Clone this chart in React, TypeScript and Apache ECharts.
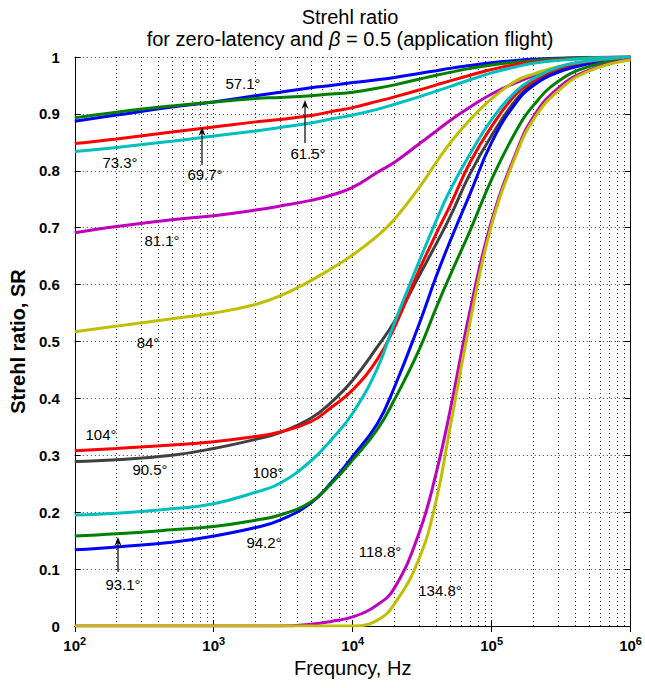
import React, { useEffect, useRef } from "react";
import * as echarts from "echarts";

// Frequency grid (Hz) shared by all curves
const frequencies = [100, 200, 500, 1000, 2000, 3000, 5000, 7000, 10000, 15000, 20000, 30000, 40000, 50000, 70000, 100000, 150000, 200000, 300000, 500000, 1000000];

// Strehl ratio values for each curve
const sr57_1 = [0.887, 0.898, 0.912, 0.921, 0.932, 0.938, 0.946, 0.950, 0.955, 0.960, 0.964, 0.971, 0.976, 0.980, 0.985, 0.990, 0.994, 0.996, 0.998, 0.999, 1.0];
const sr61_5 = [0.893, 0.903, 0.914, 0.921, 0.927, 0.929, 0.932, 0.935, 0.938, 0.945, 0.951, 0.961, 0.968, 0.973, 0.980, 0.986, 0.991, 0.994, 0.997, 0.999, 1.0];
const sr69_7 = [0.848, 0.856, 0.868, 0.877, 0.886, 0.890, 0.897, 0.904, 0.911, 0.922, 0.930, 0.942, 0.951, 0.958, 0.968, 0.978, 0.987, 0.991, 0.995, 0.998, 1.0];
const sr73_3 = [0.834, 0.841, 0.852, 0.861, 0.870, 0.876, 0.884, 0.891, 0.898, 0.908, 0.917, 0.930, 0.940, 0.948, 0.960, 0.972, 0.983, 0.989, 0.994, 0.998, 1.0];
const sr81_1 = [0.691, 0.702, 0.714, 0.721, 0.731, 0.738, 0.748, 0.757, 0.771, 0.797, 0.815, 0.847, 0.870, 0.888, 0.912, 0.935, 0.955, 0.967, 0.981, 0.993, 1.0];
const sr84 = [0.517, 0.527, 0.540, 0.550, 0.565, 0.580, 0.607, 0.628, 0.652, 0.685, 0.715, 0.770, 0.815, 0.848, 0.890, 0.927, 0.958, 0.970, 0.983, 0.993, 1.0];
const sr90_5 = [0.289, 0.292, 0.300, 0.312, 0.328, 0.340, 0.365, 0.393, 0.432, 0.490, 0.535, 0.615, 0.672, 0.718, 0.795, 0.862, 0.925, 0.953, 0.977, 0.990, 0.998];
const sr94_2 = [0.134, 0.139, 0.147, 0.158, 0.173, 0.186, 0.216, 0.252, 0.298, 0.355, 0.420, 0.530, 0.615, 0.675, 0.760, 0.850, 0.920, 0.950, 0.973, 0.988, 0.999];
const sr93_1 = [0.158, 0.162, 0.169, 0.175, 0.186, 0.195, 0.218, 0.250, 0.292, 0.345, 0.398, 0.485, 0.560, 0.615, 0.695, 0.785, 0.870, 0.915, 0.957, 0.983, 0.998];
const sr104 = [0.308, 0.312, 0.318, 0.324, 0.333, 0.341, 0.359, 0.384, 0.415, 0.468, 0.525, 0.625, 0.690, 0.738, 0.815, 0.878, 0.935, 0.958, 0.980, 0.992, 0.999];
const sr108 = [0.195, 0.198, 0.206, 0.215, 0.235, 0.251, 0.290, 0.327, 0.374, 0.452, 0.533, 0.640, 0.713, 0.765, 0.830, 0.890, 0.940, 0.962, 0.982, 0.993, 1.0];
const sr118_8 = [0, 0, 0, 0, 0, 0, 0.003, 0.008, 0.016, 0.037, 0.067, 0.163, 0.270, 0.376, 0.555, 0.712, 0.832, 0.895, 0.945, 0.977, 0.996];
const sr134_8 = [0, 0, 0, 0, 0, 0, 0, 0, 0, 0.010, 0.039, 0.118, 0.222, 0.346, 0.535, 0.705, 0.828, 0.890, 0.940, 0.975, 0.995];

const curveNames = ["57.1°", "61.5°", "69.7°", "73.3°", "81.1°", "84°", "90.5°", "94.2°", "93.1°", "104°", "108°", "118.8°", "134.8°"];
const curveValues = [sr57_1, sr61_5, sr69_7, sr73_3, sr81_1, sr84, sr90_5, sr94_2, sr93_1, sr104, sr108, sr118_8, sr134_8];
const curveColors = ["#0000ff", "#008000", "#ff0000", "#00bfbf", "#bf00bf", "#bfbf00", "#404040", "#0000ff", "#008000", "#ff0000", "#00bfbf", "#bf00bf", "#bfbf00"];

// Annotation labels
const annotationTexts = ["57.1°", "73.3°", "69.7°", "61.5°", "81.1°", "84°", "104°", "90.5°", "108°", "94.2°", "93.1°", "118.8°", "134.8°"];
const annotationX = [243, 120, 205, 308, 162, 148, 101, 150, 268, 264, 123, 380, 440];
const annotationY = [83, 162, 174, 153, 240, 342, 434, 469, 472, 542, 584, 551, 590];

// Arrows: x, yFrom (tail), yTo (tip)
const arrowX = [202, 305, 118];
const arrowFrom = [165, 143, 572];
const arrowTo = [127, 100, 537];

const xDecades = [2, 3, 4, 5];
const minorMultipliers = [2, 3, 4, 5, 6, 7, 8, 9];

const FONT = "'Liberation Sans', Arial, Helvetica, sans-serif";

export default function App() {
  const ref = useRef<HTMLDivElement>(null);

  useEffect(() => {
    if (!ref.current) return;
    const chart = echarts.init(ref.current, null, { renderer: "svg" });

    const minorLines: any[] = [];
    xDecades.forEach((d) => {
      minorMultipliers.forEach((m) => {
        minorLines.push({ xAxis: m * Math.pow(10, d) });
      });
    });

    const gridDots = { color: "#333", width: 1, type: [1, 3] as any };

    const series: any[] = [
      {
        type: "line",
        name: "minorGrid",
        data: [],
        silent: true,
        z: 1,
        markLine: {
          silent: true,
          symbol: ["none", "none"],
          label: { show: false },
          lineStyle: gridDots,
          emphasis: { disabled: true },
          data: minorLines,
        },
      },
    ];

    curveValues.forEach((vals, i) => {
      series.push({
        type: "line",
        name: curveNames[i],
        data: frequencies.map((f, j) => [f, vals[j]]),
        showSymbol: false,
        smooth: 0.45,
        lineStyle: { width: 3, color: curveColors[i] },
        itemStyle: { color: curveColors[i] },
        z: 3 + i,
        silent: true,
      });
    });

    const graphics: any[] = [];
    graphics.push({
      type: "text",
      x: 350,
      y: 17,
      style: {
        text: "Strehl ratio",
        font: `20px ${FONT}`,
        fill: "#000",
        align: "center",
        verticalAlign: "middle",
      },
    });
    graphics.push({
      type: "text",
      x: 350,
      y: 39,
      style: {
        text: "{n|for zero-latency and }{i|β}{n| = 0.5 (application flight)}",
        align: "center",
        verticalAlign: "middle",
        rich: {
          n: { fontSize: 20, fontFamily: FONT, fill: "#000" },
          i: { fontSize: 20, fontFamily: FONT, fontStyle: "italic", fill: "#000" },
        },
      },
    });
    annotationTexts.forEach((t, i) => {
      graphics.push({
        type: "text",
        x: annotationX[i],
        y: annotationY[i],
        z: 100,
        style: {
          text: t,
          font: `15px ${FONT}`,
          fill: "#000",
          align: "center",
          verticalAlign: "middle",
        },
      });
    });
    arrowX.forEach((x, i) => {
      graphics.push({
        type: "line",
        z: 100,
        shape: { x1: x, y1: arrowFrom[i], x2: x, y2: arrowTo[i] + 4 },
        style: { stroke: "#000", lineWidth: 1.2 },
      });
      graphics.push({
        type: "polygon",
        z: 100,
        shape: {
          points: [
            [x, arrowTo[i]],
            [x - 3.5, arrowTo[i] + 9],
            [x, arrowTo[i] + 6],
            [x + 3.5, arrowTo[i] + 9],
          ],
        },
        style: { fill: "#000" },
      });
    });

    const option: any = {
      animation: false,
      backgroundColor: "#fff",
      grid: { left: 67, right: 12, top: 57, bottom: 62, containLabel: false },
      xAxis: [
        {
          type: "log",
          logBase: 10,
          min: 100,
          max: 1000000,
          name: "Frequncy, Hz",
          nameLocation: "middle",
          nameGap: 32,
          nameTextStyle: { fontFamily: FONT, fontSize: 20, color: "#000" },
          axisLine: { show: true, lineStyle: { color: "#000", width: 1 } },
          axisTick: { show: true, inside: true, length: 6, lineStyle: { color: "#000" } },
          splitLine: { show: true, lineStyle: gridDots },
          axisLabel: {
            margin: 9,
            formatter: (v: number) => `{b|10}{s|${Math.round(Math.log10(v))}}`,
            rich: {
              b: { fontFamily: FONT, fontSize: 15, fontWeight: "bold", color: "#000" },
              s: { fontFamily: FONT, fontSize: 11, fontWeight: "bold", color: "#000", padding: [0, 0, 10, 0] },
            },
          },
        },
        {
          type: "log",
          logBase: 10,
          min: 100,
          max: 1000000,
          position: "top",
          axisLine: { show: true, lineStyle: { color: "#000", width: 1 } },
          axisTick: { show: true, inside: true, length: 6, lineStyle: { color: "#000" } },
          axisLabel: { show: false },
          splitLine: { show: false },
        },
      ],
      yAxis: [
        {
          type: "value",
          min: 0,
          max: 1,
          interval: 0.1,
          name: "Strehl ratio, SR",
          nameLocation: "middle",
          nameGap: 45,
          nameTextStyle: { fontFamily: FONT, fontSize: 20, fontWeight: "bold", color: "#000" },
          axisLine: { show: true, lineStyle: { color: "#000", width: 1 } },
          axisTick: { show: true, inside: true, length: 6, lineStyle: { color: "#000" } },
          splitLine: { show: true, lineStyle: gridDots },
          axisLabel: {
            margin: 15,
            fontFamily: FONT,
            fontSize: 15,
            fontWeight: "bold",
            color: "#000",
            formatter: (v: number) => String(Math.round(v * 10) / 10),
          },
        },
        {
          type: "value",
          min: 0,
          max: 1,
          interval: 0.1,
          position: "right",
          axisLine: { show: true, lineStyle: { color: "#000", width: 1 } },
          axisTick: { show: true, inside: true, length: 6, lineStyle: { color: "#000" } },
          axisLabel: { show: false },
          splitLine: { show: false },
        },
      ],
      series,
      graphic: graphics,
    };

    chart.setOption(option);
    return () => chart.dispose();
  }, []);

  return (
    <div
      ref={ref}
      style={{ position: "absolute", left: 0, top: 0, width: 645, height: 688, background: "#fff" }}
    />
  );
}
